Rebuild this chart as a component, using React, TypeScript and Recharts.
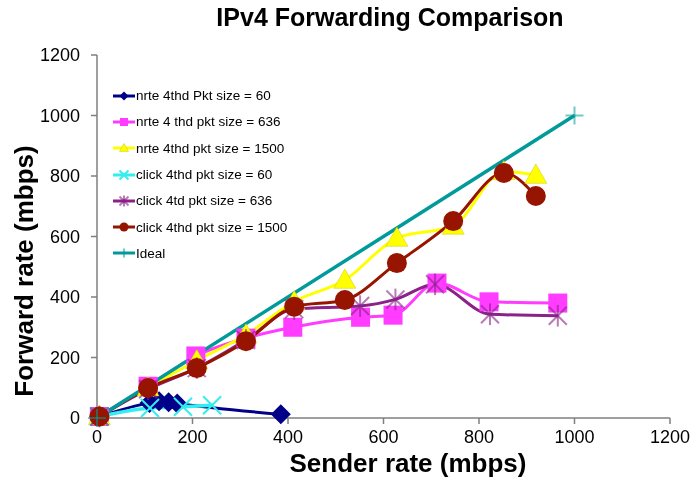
import { LineChart, Line, XAxis, YAxis, Label } from "recharts";

// sender rate (x) / forward rate (y), mbps
const nrte60X = [5, 110, 130, 150, 168, 385];
const nrte60Y = [5, 50, 55, 52, 48, 12];
const nrte636X = [5, 107, 207, 312, 410, 552, 620, 712, 821, 965];
const nrte636Y = [5, 105, 205, 264, 300, 333, 340, 446, 384, 380];
const nrte1500X = [5, 107, 209, 312, 413, 519, 628, 746, 852, 919];
const nrte1500Y = [5, 100, 190, 275, 385, 456, 595, 635, 815, 803];
const click60X = [5, 111, 180, 241];
const click60Y = [5, 33, 37, 42];
const click636X = [5, 107, 209, 312, 413, 551, 625, 708, 823, 965];
const click636Y = [5, 95, 165, 258, 360, 370, 392, 442, 343, 338];
const click1500X = [5, 107, 209, 312, 413, 519, 628, 746, 852, 919];
const click1500Y = [5, 99, 165, 254, 368, 390, 512, 651, 810, 734];
const idealX = [0, 1000];
const idealY = [0, 1000];

const AXIS_TICKS = [0, 200, 400, 600, 800, 1000, 1200];

const FONT = '"Liberation Sans", Arial, sans-serif';
const AXIS_COLOR = "#7f7f7f";

type Shape = "diamond" | "square" | "triangle" | "x" | "asterisk" | "circle" | "plus";

const toPoints = (xs: number[], ys: number[]) => xs.map((x, i) => ({ x, y: ys[i] }));

const SERIES: { name: string; color: string; shape: Shape; data: { x: number; y: number }[]; width: number }[] = [
  { name: "nrte 4thd Pkt size = 60", color: "#000088", shape: "diamond", data: toPoints(nrte60X, nrte60Y), width: 3 },
  { name: "nrte 4 thd pkt size = 636", color: "#ff3cff", shape: "square", data: toPoints(nrte636X, nrte636Y), width: 3 },
  { name: "nrte 4thd pkt size = 1500", color: "#ffff00", shape: "triangle", data: toPoints(nrte1500X, nrte1500Y), width: 3 },
  { name: "click 4thd pkt size = 60", color: "#33eeee", shape: "x", data: toPoints(click60X, click60Y), width: 3.5 },
  { name: "click 4td pkt size = 636", color: "#8b2288", shape: "asterisk", data: toPoints(click636X, click636Y), width: 3 },
  { name: "click 4thd pkt size = 1500", color: "#961400", shape: "circle", data: toPoints(click1500X, click1500Y), width: 3 },
  { name: "Ideal", color: "#009a9a", shape: "plus", data: toPoints(idealX, idealY), width: 3.5 },
];

function marker(shape: Shape, color: string, cx: number, cy: number, s: number, key?: string | number) {
  switch (shape) {
    case "diamond":
      return (
        <polygon key={key} points={`${cx},${cy - s} ${cx + s},${cy} ${cx},${cy + s} ${cx - s},${cy}`} fill={color} />
      );
    case "square":
      return <rect key={key} x={cx - s} y={cy - s} width={s * 2} height={s * 2} fill={color} />;
    case "triangle":
      return (
        <polygon
          key={key}
          points={`${cx},${cy - s} ${cx + s},${cy + s * 0.75} ${cx - s},${cy + s * 0.75}`}
          fill={color}
          stroke="#c8c800"
          strokeWidth={0.5}
        />
      );
    case "x":
      return (
        <g key={key} stroke={color} strokeWidth={2}>
          <line x1={cx - s} y1={cy - s} x2={cx + s} y2={cy + s} />
          <line x1={cx - s} y1={cy + s} x2={cx + s} y2={cy - s} />
        </g>
      );
    case "asterisk":
      return (
        <g key={key} stroke={color} strokeWidth={2} strokeOpacity={0.6}>
          <line x1={cx - s} y1={cy - s} x2={cx + s} y2={cy + s} />
          <line x1={cx - s} y1={cy + s} x2={cx + s} y2={cy - s} />
          <line x1={cx} y1={cy - s * 1.2} x2={cx} y2={cy + s * 1.2} />
        </g>
      );
    case "circle":
      return <circle key={key} cx={cx} cy={cy} r={s} fill={color} />;
    case "plus":
      return (
        <g key={key} stroke={color} strokeWidth={2} strokeOpacity={0.55}>
          <line x1={cx - s} y1={cy} x2={cx + s} y2={cy} />
          <line x1={cx} y1={cy - s} x2={cx} y2={cy + s} />
        </g>
      );
  }
}

const DOT_SIZE: Record<Shape, number> = {
  diamond: 10,
  square: 9.5,
  triangle: 11,
  x: 9,
  asterisk: 9,
  circle: 10,
  plus: 9,
};

function Legend() {
  return (
    <div style={{ position: "absolute", left: 112, top: 82.5, fontFamily: FONT, fontSize: 13.5, color: "#000" }}>
      {SERIES.map((s) => (
        <div key={s.name} style={{ display: "flex", alignItems: "center", height: 26.3 }}>
          <svg width={24} height={12} style={{ display: "block" }}>
            <line x1={1} y1={6} x2={23} y2={6} stroke={s.color} strokeWidth={3} />
            {marker(s.shape, s.color, 12, 6, s.shape === "square" ? 4 : 4.5)}
          </svg>
          <span style={{ whiteSpace: "nowrap" }}>{s.name}</span>
        </div>
      ))}
    </div>
  );
}

export default function App() {
  return (
    <div style={{ position: "fixed", left: 0, top: 0, width: 692, height: 481, background: "#fff" }}>
      <div
        style={{
          position: "absolute",
          left: 0,
          top: 3,
          width: 780,
          textAlign: "center",
          fontFamily: FONT,
          fontWeight: "bold",
          fontSize: 25,
          color: "#000",
        }}
      >
        IPv4 Forwarding Comparison
      </div>
      <LineChart width={692} height={481} margin={{ top: 55, right: 22, left: 0, bottom: 0 }}>
        <XAxis
          type="number"
          dataKey="x"
          domain={[0, 1200]}
          ticks={AXIS_TICKS}
          height={63}
          stroke={AXIS_COLOR}
          strokeWidth={1.5}
          tickSize={6}
          tickMargin={6}
          tick={{ fill: "#000", fontSize: 18, fontFamily: FONT }}
        >
          <Label
            content={() => (
              <text x={408} y={472} textAnchor="middle" fontFamily={FONT} fontWeight="bold" fontSize={26} fill="#000">
                Sender rate (mbps)
              </text>
            )}
          />
        </XAxis>
        <YAxis
          type="number"
          dataKey="y"
          domain={[0, 1200]}
          ticks={AXIS_TICKS}
          width={97}
          stroke={AXIS_COLOR}
          strokeWidth={1.5}
          tickSize={6}
          tickMargin={11}
          tick={{ fill: "#000", fontSize: 18, fontFamily: FONT }}
        >
          <Label
            content={() => (
              <text
                x={24}
                y={271}
                transform="rotate(-90 24 271)"
                textAnchor="middle"
                dominantBaseline="central"
                fontFamily={FONT}
                fontWeight="bold"
                fontSize={26}
                fill="#000"
              >
                Forward rate (mbps)
              </text>
            )}
          />
        </YAxis>
        {SERIES.map((s) => (
          <Line
            key={s.name}
            data={s.data}
            dataKey="y"
            name={s.name}
            type={s.shape === "plus" ? "linear" : "monotone"}
            stroke={s.color}
            strokeWidth={s.width}
            isAnimationActive={false}
            dot={(p: any) => marker(s.shape, s.color, p.cx, p.cy, DOT_SIZE[s.shape], p.index)}
            activeDot={false}
          />
        ))}
      </LineChart>
      <Legend />
    </div>
  );
}
